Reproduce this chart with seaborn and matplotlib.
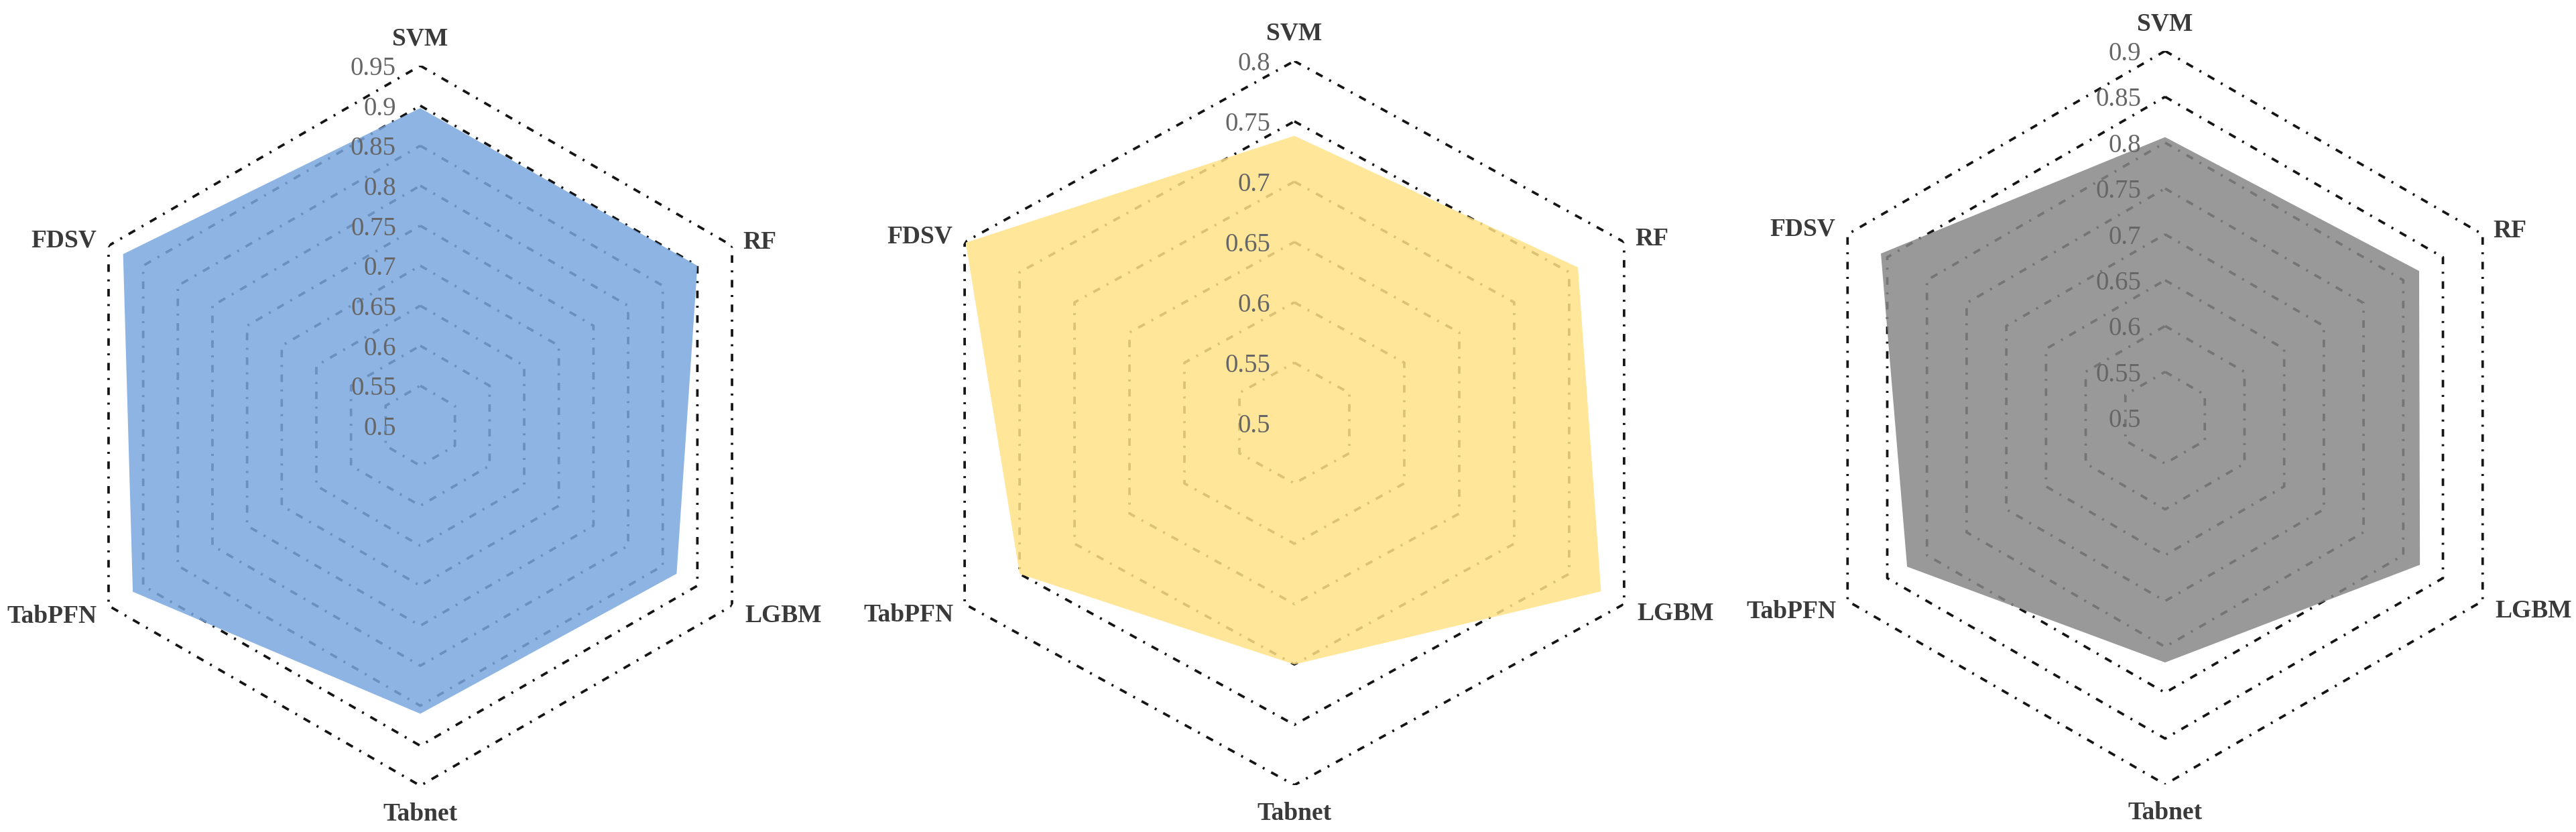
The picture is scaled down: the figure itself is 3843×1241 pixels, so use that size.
import numpy as np
import pandas as pd
import matplotlib
matplotlib.use("Agg")
import matplotlib.pyplot as plt
import seaborn as sns

# ---------------- data ----------------
models = ["SVM", "RF", "LGBM", "Tabnet", "TabPFN", "FDSV"]

scores_blue = [0.897, 0.900, 0.870, 0.860, 0.915, 0.929]
scores_yellow = [0.738, 0.758, 0.779, 0.700, 0.750, 0.799]
scores_gray = [0.806, 0.820, 0.821, 0.767, 0.825, 0.858]

ticks_blue = [0.5, 0.55, 0.6, 0.65, 0.7, 0.75, 0.8, 0.85, 0.9, 0.95]
ticks_yellow = [0.5, 0.55, 0.6, 0.65, 0.7, 0.75, 0.8]
ticks_gray = [0.5, 0.55, 0.6, 0.65, 0.7, 0.75, 0.8, 0.85, 0.9]

fill_colors = ["#7AA7DE", "#FFE287", "#878787"]

# ---------------- style ----------------
sns.set_theme(style="white")
plt.rcParams["font.family"] = ["Liberation Serif", "DejaVu Serif"]

W, H = 3843, 1241
fig = plt.figure(figsize=(W / 100, H / 100), dpi=100)
fig.patch.set_facecolor("white")

# axes boxes in pixels: (left, top, width, height)
boxes = [
    (90, 98, 1074, 1074),
    (1363, 91, 1136, 1080),
    (2683, 76, 1094, 1094),
]

panels = [
    (scores_blue, ticks_blue, fill_colors[0]),
    (scores_yellow, ticks_yellow, fill_colors[1]),
    (scores_gray, ticks_gray, fill_colors[2]),
]

n = len(models)
angles = np.linspace(0, 2 * np.pi, n, endpoint=False)
theta_closed = np.concatenate([angles, angles[:1]])

label_pos = {
    "SVM": ((0, 31), "center", "baseline"),
    "RF": ((16, 9), "left", "center_baseline"),
    "LGBM": ((19, -11), "left", "center_baseline"),
    "Tabnet": ((0, -52), "center", "baseline"),
    "TabPFN": ((-17, -12), "right", "center_baseline"),
    "FDSV": ((-18, 12), "right", "center_baseline"),
}

ring_style = dict(color="#151515", linewidth=2.7, linestyle=(0, (3.0, 3.0, 0.8, 3.0)))

for (scores, ticks, fc), (l, t, w, h) in zip(panels, boxes):
    ax = fig.add_axes([l / W, (H - t - h) / H, w / W, h / H], projection="polar")
    ax.set_aspect("auto")
    ax.set_theta_zero_location("N")
    ax.set_theta_direction(-1)
    ax.set_facecolor("none")
    ax.grid(False)
    ax.spines["polar"].set_visible(False)

    # hexagonal rings
    for v in ticks[1:]:
        ring = pd.DataFrame({"theta": theta_closed, "r": [v] * (n + 1)})
        sns.lineplot(data=ring, x="theta", y="r", sort=False, estimator=None,
                     ax=ax, zorder=2, **ring_style)

    # filled data polygon
    vals = np.concatenate([scores, scores[:1]])
    ax.fill(theta_closed, vals, color=fc, alpha=0.85, linewidth=0, zorder=3)

    ax.set_ylim(ticks[0], ticks[-1])
    ax.set_xticks([])
    ax.set_yticks([])
    ax.set_xlabel("")
    ax.set_ylabel("")

    # radial tick labels along the top spoke
    for v in ticks:
        ax.annotate(f"{v:g}", xy=(0, v), xytext=(-36, 0), textcoords="offset pixels",
                    ha="right", va="center_baseline", fontsize=28, color="#666666",
                    zorder=6, annotation_clip=False)

    # category labels
    for ang, name in zip(angles, models):
        off, ha, va = label_pos[name]
        ax.annotate(name, xy=(ang, ticks[-1]), xytext=off, textcoords="offset pixels",
                    ha=ha, va=va, fontsize=27, fontweight="bold", color="#3a3a3a",
                    zorder=6, annotation_clip=False)

fig.savefig("out.png", dpi=100, facecolor="white")
